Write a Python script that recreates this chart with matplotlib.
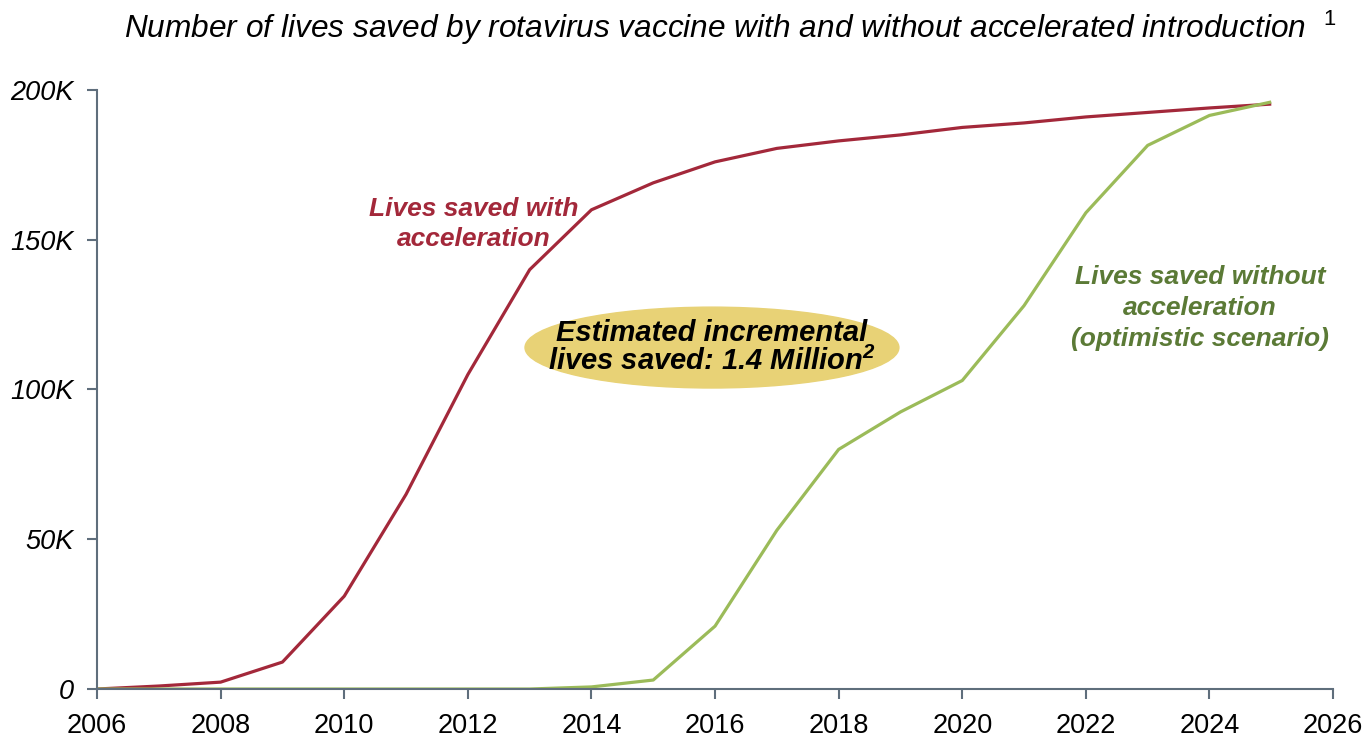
import matplotlib.pyplot as plt
from matplotlib.patches import Ellipse
from matplotlib.ticker import FuncFormatter

plt.rcParams['font.family'] = ['Liberation Sans', 'DejaVu Sans']
plt.rcParams['mathtext.fontset'] = 'custom'
plt.rcParams['mathtext.rm'] = 'Liberation Sans'
plt.rcParams['mathtext.it'] = 'Liberation Sans:italic'
plt.rcParams['mathtext.bf'] = 'Liberation Sans:bold:italic'

years = list(range(2006, 2026))
with_accel = [0, 1, 2.3, 9, 31, 65, 105, 140, 160, 169, 176, 180.5, 183, 185,
              187.5, 189, 191, 192.5, 194, 195.3]
without_accel = [0, 0, 0, 0, 0, 0, 0, 0, 0.7, 3, 21, 53, 80, 92.5,
                 103, 128, 159, 181.5, 191.5, 196]

red = '#a3283a'
green = '#9bbb59'
axis_col = '#5f6e7c'

fig = plt.figure(figsize=(13.65, 7.4), dpi=100)
ax = fig.add_axes([0.0711, 0.0689, 0.9055, 0.8095])

ax.plot(years, with_accel, color=red, lw=2.3, solid_capstyle='butt')
ax.plot(years, without_accel, color=green, lw=2.3, solid_capstyle='butt')

ax.set_xlim(2006, 2026)
ax.set_ylim(0, 200)
ax.set_xticks(range(2006, 2027, 2))
ax.set_yticks(range(0, 201, 50))
ax.yaxis.set_major_formatter(FuncFormatter(lambda v, p: '0' if v == 0 else f'{int(v)}K'))

for s in ['top', 'right']:
    ax.spines[s].set_visible(False)
for s in ['left', 'bottom']:
    ax.spines[s].set_color(axis_col)
    ax.spines[s].set_linewidth(1.5)
ax.tick_params(axis='x', direction='out', length=7, width=1.5, color=axis_col,
               labelsize=19.5, pad=10)
ax.tick_params(axis='y', direction='out', length=7, width=1.5, color=axis_col,
               labelsize=19.5, pad=10)
for lbl in ax.get_yticklabels():
    lbl.set_style('italic')

fig.text(0.535, 0.962, 'Number of lives saved by rotavirus vaccine with and without accelerated introduction  $^{1}$',
         ha='center', va='center', fontsize=22.8, style='italic')

ax.text(2012.1, 155.3, 'Lives saved with\nacceleration', color=red, fontsize=19,
        fontweight='bold', style='italic', ha='center', va='center', linespacing=1.29)
ax.text(2023.85, 127.2, 'Lives saved without\nacceleration\n(optimistic scenario)', color='#5b7a36',
        fontsize=19, fontweight='bold', style='italic', ha='center', va='center',
        linespacing=1.35)

ax.add_patch(Ellipse((2015.95, 114), 6.05, 27, color='#e8d276', zorder=1))
ax.text(2015.95, 114, 'Estimated incremental\nlives saved: 1.4 Million$^{\\mathbf{2}}$', color='black',
        fontsize=21, fontweight='bold', style='italic', ha='center', va='center',
        linespacing=1.0, zorder=3)

fig.savefig('out.png', dpi=100)
